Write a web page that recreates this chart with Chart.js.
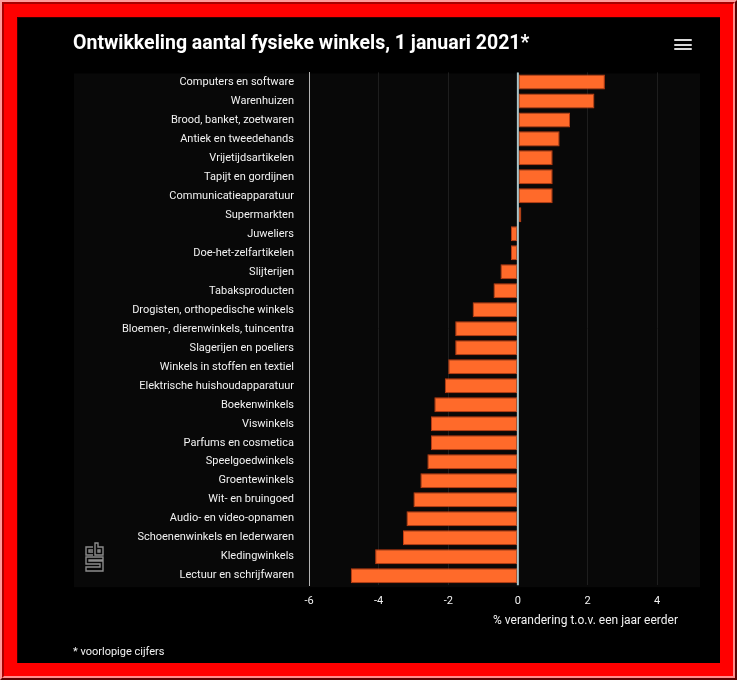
<!DOCTYPE html>
<html>
<head>
<meta charset="utf-8">
<title>Ontwikkeling aantal fysieke winkels</title>
<script src="https://cdn.jsdelivr.net/npm/chart.js@4.4.1/dist/chart.umd.min.js"></script>
<style>
  html, body { margin: 0; padding: 0; background: #ff0000; }
  #frame {
    position: absolute; left: 0; top: 0; width: 737px; height: 680px;
    box-sizing: border-box;
    border-style: solid; border-width: 2px;
    border-color: #ff9a9a #5a0000 #5a0000 #ff9a9a;
  }
  #frame2 {
    position: absolute; left: 0; top: 0; right: 0; bottom: 0;
    border-style: solid; border-width: 2px;
    border-color: #a80000 #ff8c8c #ff8c8c #a80000;
  }
  #panel {
    position: absolute; left: 17px; top: 17px; width: 703px; height: 646px;
    background: #000;
    box-shadow: inset 1px 1px 0 #300000;
  }
  #menu { position: absolute; left: 657px; top: 22px; width: 18px; }
  #menu div { height: 2px; background: #dadada; border-radius: 1px; margin-bottom: 2.5px; }
  #logo { position: absolute; left: 67px; top: 525px; }
</style>
</head>
<body>
<div id="frame"><div id="frame2"></div></div>
<div id="panel">
  <canvas id="winkelChart"></canvas>
  <div id="menu"><div></div><div></div><div></div></div>
  <svg id="logo" width="22" height="32" viewBox="0 0 22 32">
    <g fill="none" stroke="#8c8c8c" stroke-width="1.4">
      <!-- c -->
      <path d="M9 5 H2 V13 H9" />
      <path d="M9 8 H5 V10 H9" />
      <!-- b -->
      <path d="M11 1 V13 H19 V5 H14 V1 Z" />
      <path d="M14 8 H16 V10 H14 Z" />
      <!-- s -->
      <path d="M19 15 H2 V22 H16 V25 H2 V29 H19 V19 H5 V18 H19 Z" />
    </g>
  </svg>
</div>

<script>
// categories, top to bottom as in the picture
let categories = [
  "Computers en software",
  "Warenhuizen",
  "Brood, banket, zoetwaren",
  "Antiek en tweedehands",
  "Vrijetijdsartikelen",
  "Tapijt en gordijnen",
  "Communicatieapparatuur",
  "Supermarkten",
  "Juweliers",
  "Doe-het-zelfartikelen",
  "Slijterijen",
  "Tabaksproducten",
  "Drogisten, orthopedische winkels",
  "Bloemen-, dierenwinkels, tuincentra",
  "Slagerijen en poeliers",
  "Winkels in stoffen en textiel",
  "Elektrische huishoudapparatuur",
  "Boekenwinkels",
  "Viswinkels",
  "Parfums en cosmetica",
  "Speelgoedwinkels",
  "Groentewinkels",
  "Wit- en bruingoed",
  "Audio- en video-opnamen",
  "Schoenenwinkels en lederwaren",
  "Kledingwinkels",
  "Lectuur en schrijfwaren"
];

// % verandering t.o.v. een jaar eerder
let changes = [
  2.5, 2.2, 1.5, 1.2, 1.0, 1.0, 1.0, 0.1, -0.2, -0.2, -0.5, -0.7, -1.3, -1.8,
  -1.8, -2.0, -2.1, -2.4, -2.5, -2.5, -2.6, -2.8, -3.0, -3.2, -3.3, -4.1, -4.8
];

let xTicks = [-6, -4, -2, 0, 2, 4];
let xMin = -6;
let xMax = 4.6;

let titleText = "Ontwikkeling aantal fysieke winkels, 1 januari 2021*";
let axisTitle = "% verandering t.o.v. een jaar eerder";
let footText = "* voorlopige cijfers";

let fontName = "Roboto, 'Noto Sans', sans-serif";

// barely lighter panel behind labels and bars
const panelPlugin = {
  id: "panelBg",
  beforeDraw(chart) {
    let ctx = chart.ctx;
    let area = chart.chartArea;
    ctx.save();
    ctx.fillStyle = "#080808";
    ctx.fillRect(57, area.top + 1, area.right + 22 - 57, area.bottom - area.top + 1);
    ctx.restore();
  },
};

// zero line drawn over the bars
const zeroLinePlugin = {
  id: "zeroLine",
  afterDatasetsDraw(chart) {
    let ctx = chart.ctx;
    let area = chart.chartArea;
    let x0 = chart.scales.x.getPixelForValue(0);
    ctx.save();
    ctx.strokeStyle = "#a9c4c8";
    ctx.lineWidth = 2;
    ctx.beginPath();
    ctx.moveTo(x0, area.top);
    ctx.lineTo(x0, area.bottom);
    ctx.stroke();
    ctx.restore();
  },
};

const ctx = document.getElementById("winkelChart").getContext("2d");
let winkelChart = new Chart(ctx, {
  type: "bar",
  data: {
    labels: categories,
    datasets: [
      {
        label: "winkels",
        data: changes,
        backgroundColor: "#ff6a2a",
        borderColor: "#c23d12",
        borderWidth: 1,
        borderSkipped: false,
        barPercentage: 0.79,
        categoryPercentage: 1,
      },
    ],
  },
  options: {
    indexAxis: "y",
    responsive: true,
    maintainAspectRatio: false,
    animation: false,
    devicePixelRatio: 1,
    layout: {
      padding: { top: 15, left: 56, right: 42, bottom: 0 },
    },
    scales: {
      x: {
        min: xMin,
        max: xMax,
        afterBuildTicks: (scale) => {
          scale.ticks = xTicks.map((v) => ({ value: v }));
        },
        grid: {
          color: "#1e1e1e",
          lineWidth: 1,
          drawTicks: false,
        },
        border: { display: false },
        ticks: {
          color: "#f2f2f2",
          padding: 9,
          font: { family: fontName, size: 11 },
        },
        title: {
          display: true,
          text: axisTitle,
          align: "end",
          color: "#f2f2f2",
          padding: { top: -3, bottom: 4 },
          font: { family: fontName, size: 12 },
        },
      },
      y: {
        afterFit: (scale) => {
          scale.width = 236; // room for the long category names
        },
        grid: { display: false, drawTicks: false },
        border: { display: true, color: "#b4b4b4", width: 1 },
        ticks: {
          color: "#f2f2f2",
          padding: 15,
          autoSkip: false,
          font: { family: fontName, size: 11 },
        },
      },
    },
    plugins: {
      legend: { display: false },
      tooltip: { enabled: false },
      title: {
        display: true,
        text: titleText,
        align: "start",
        color: "#ffffff",
        padding: { top: 0, bottom: 17 },
        font: { family: fontName, size: 19.5, weight: "bold" },
      },
      subtitle: {
        display: true,
        position: "bottom",
        text: footText,
        align: "start",
        color: "#f2f2f2",
        padding: { top: 14, bottom: 4 },
        font: { family: fontName, size: 11 },
      },
    },
  },
  plugins: [panelPlugin, zeroLinePlugin],
});
</script>
</body>
</html>
